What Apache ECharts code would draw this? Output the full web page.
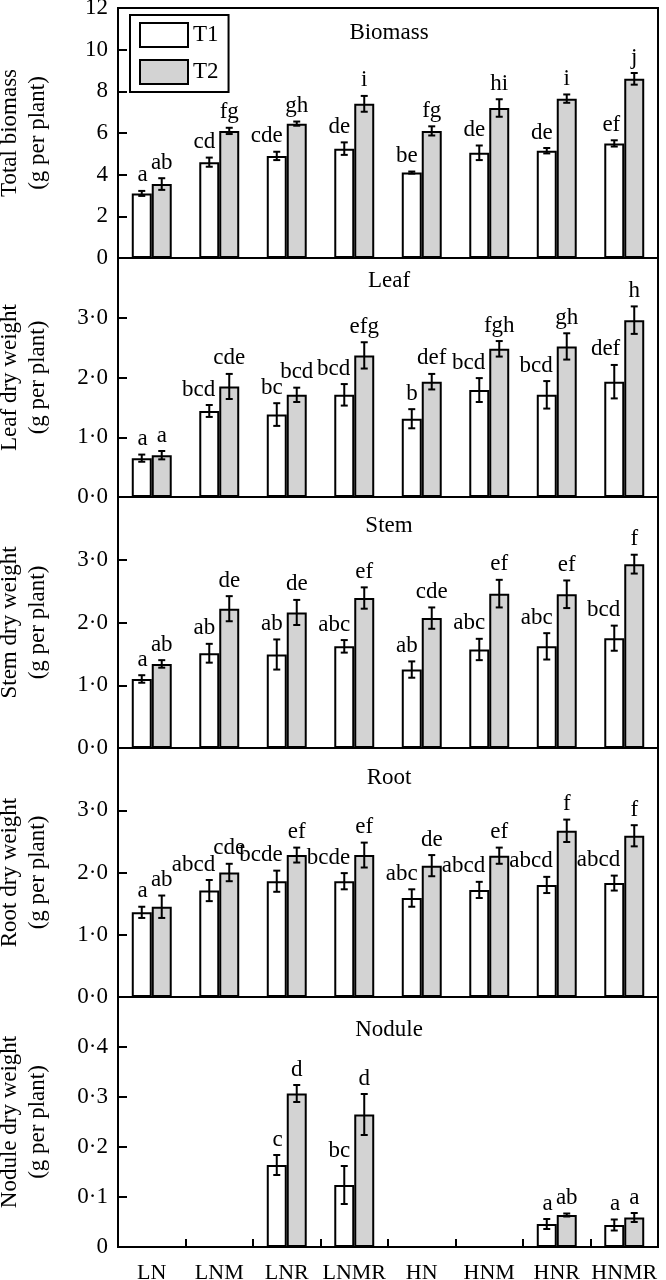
<!DOCTYPE html>
<html><head><meta charset="utf-8">
<script src="https://cdn.jsdelivr.net/npm/echarts@6/dist/echarts.min.js"></script>
<style>html,body{margin:0;padding:0;background:#fff}#c{width:666px;height:1280px}</style>
</head><body><div id="c"></div>
<script>
const categories = ['LN','LNM','LNR','LNMR','HN','HNM','HNR','HNMR'];

const biomassT1 = [3.1, 4.6, 4.9, 5.25, 4.1, 5.05, 5.15, 5.5];
const biomassT1Err = [0.12, 0.22, 0.2, 0.3, 0.05, 0.35, 0.13, 0.15];
const biomassT2 = [3.55, 6.1, 6.45, 7.4, 6.1, 7.2, 7.65, 8.6];
const biomassT2Err = [0.28, 0.15, 0.1, 0.38, 0.22, 0.42, 0.2, 0.28];
const biomassT1Letters = ['a','cd','cde','de','be','de','de','ef'];
const biomassT2Letters = ['ab','fg','gh','i','fg','hi','i','j'];

const leafT1 = [0.65, 1.44, 1.38, 1.71, 1.31, 1.79, 1.71, 1.93];
const leafT1Err = [0.06, 0.1, 0.19, 0.18, 0.16, 0.2, 0.23, 0.28];
const leafT2 = [0.70, 1.85, 1.71, 2.37, 1.93, 2.48, 2.52, 2.96];
const leafT2Err = [0.07, 0.21, 0.12, 0.22, 0.13, 0.13, 0.22, 0.23];
const leafT1Letters = ['a','bcd','bc','bcd','b','bcd','bcd','def'];
const leafT2Letters = ['a','cde','bcd','efg','def','fgh','gh','h'];

const stemT1 = [1.10, 1.51, 1.49, 1.62, 1.25, 1.57, 1.62, 1.75];
const stemT1Err = [0.06, 0.15, 0.24, 0.1, 0.13, 0.17, 0.21, 0.2];
const stemT2 = [1.34, 2.22, 2.16, 2.39, 2.07, 2.46, 2.45, 2.93];
const stemT2Err = [0.06, 0.2, 0.2, 0.17, 0.17, 0.22, 0.22, 0.15];
const stemT1Letters = ['a','ab','ab','abc','ab','abc','abc','bcd'];
const stemT2Letters = ['ab','de','de','ef','cde','ef','ef','f'];

const rootT1 = [1.36, 1.71, 1.86, 1.86, 1.59, 1.72, 1.80, 1.83];
const rootT1Err = [0.09, 0.17, 0.17, 0.13, 0.14, 0.13, 0.13, 0.12];
const rootT2 = [1.45, 2.0, 2.28, 2.28, 2.11, 2.27, 2.67, 2.59];
const rootT2Err = [0.18, 0.14, 0.12, 0.2, 0.17, 0.13, 0.18, 0.17];
const rootT1Letters = ['a','abcd','bcde','bcde','abc','abcd','abcd','abcd'];
const rootT2Letters = ['ab','cde','ef','ef','de','ef','f','f'];

const noduleT1 = [null, null, 0.164, 0.124, null, null, 0.046, 0.044];
const noduleT1Err = [null, null, 0.02, 0.038, null, null, 0.01, 0.011];
const noduleT2 = [null, null, 0.307, 0.265, null, null, 0.064, 0.059];
const noduleT2Err = [null, null, 0.017, 0.041, null, null, 0.003, 0.009];
const noduleT1Letters = ['','','c','bc','','','a','a'];
const noduleT2Letters = ['','','d','d','','','ab','a'];

const FONT = 'Liberation Serif';
const BAR_FRAC = 0.296;
const dot = v => v.toFixed(1).replace('.', '\u00B7');

const panels = [
  {title:'Biomass', yName:'Total biomass\n(g per plant)', max:12, interval:2,
   t1:biomassT1, e1:biomassT1Err, t2:biomassT2, e2:biomassT2Err, l1:biomassT1Letters, l2:biomassT2Letters,
   fmt:v=>String(v), showMax:true},
  {title:'Leaf', yName:'Leaf dry weight\n(g per plant)', max:4, interval:1,
   t1:leafT1, e1:leafT1Err, t2:leafT2, e2:leafT2Err, l1:leafT1Letters, l2:leafT2Letters, fmt:dot, showMax:false},
  {title:'Stem', yName:'Stem dry weight\n(g per plant)', max:4, interval:1,
   t1:stemT1, e1:stemT1Err, t2:stemT2, e2:stemT2Err, l1:stemT1Letters, l2:stemT2Letters, fmt:dot, showMax:false},
  {title:'Root', yName:'Root dry weight\n(g per plant)', max:4, interval:1,
   t1:rootT1, e1:rootT1Err, t2:rootT2, e2:rootT2Err, l1:rootT1Letters, l2:rootT2Letters, fmt:dot, showMax:false},
  {title:'Nodule', yName:'Nodule dry weight\n(g per plant)', max:0.5, interval:0.1,
   t1:noduleT1, e1:noduleT1Err, t2:noduleT2, e2:noduleT2Err, l1:noduleT1Letters, l2:noduleT2Letters,
   fmt:v=>(v===0?'0':dot(v)), showMax:false}
];
const layout = [[8,258],[258,497],[497,748],[748,997],[997,1247]];
const titleY = [21, 269, 514, 766, 1018];

const grid=[], xAxis=[], yAxis=[], series=[], graphic=[];
panels.forEach((p,k)=>{
  const last = k === panels.length-1;
  grid.push({left:118, right:8, top:layout[k][0], height:layout[k][1]-layout[k][0],
    outerBoundsMode:'none', containLabel:false,
    show:true, borderColor:'#000', borderWidth:2, backgroundColor:'transparent'});
  xAxis.push({type:'category', gridIndex:k, data:categories, boundaryGap:true,
    axisLine:{show:true, lineStyle:{color:'#000', width:2}},
    axisTick:{show:last, inside:true, length:8, interval:0, lineStyle:{color:'#000', width:2}},
    axisLabel:{show:last, interval:0, color:'#000', fontFamily:FONT, fontSize:22, margin:15},
    splitLine:{show:false}});
  yAxis.push({type:'value', gridIndex:k, min:0, max:p.max, interval:p.interval,
    name:p.yName, nameLocation:'middle', nameRotate:90, nameGap:66,
    nameTextStyle:{color:'#000', fontFamily:FONT, fontSize:23, lineHeight:28},
    axisLine:{show:true, lineStyle:{color:'#000', width:2}},
    axisTick:{show:true, inside:true, length:9, lineStyle:{color:'#000', width:2}},
    axisLabel:{color:'#000', fontFamily:FONT, fontSize:23, margin:10, formatter:p.fmt,
      showMaxLabel:p.showMax, showMinLabel:true},
    splitLine:{show:false}});
  const toData = arr => arr.map(v => v == null ? '-' : v);
  series.push({type:'bar', name:'T1', xAxisIndex:k, yAxisIndex:k, data:toData(p.t1),
    barWidth:'29.6%', barGap:'0%', z:2,
    itemStyle:{color:'#ffffff', borderColor:'#000', borderWidth:2}});
  series.push({type:'bar', name:'T2', xAxisIndex:k, yAxisIndex:k, data:toData(p.t2),
    barWidth:'29.6%', barGap:'0%', z:2,
    itemStyle:{color:'#d3d3d3', borderColor:'#000', borderWidth:2}});
  [0,1].forEach(t=>{
    const vals = t ? p.t2 : p.t1, errs = t ? p.e2 : p.e1, letters = t ? p.l2 : p.l1;
    series.push({type:'custom', xAxisIndex:k, yAxisIndex:k, clip:false, z:5, silent:true,
      data: vals.map((v,i)=>[i, v==null?'-':v, errs[i]==null?'-':errs[i]]),
      renderItem:(params, api)=>{
        const i = api.value(0), v = api.value(1), e = api.value(2);
        if (isNaN(v)) return null;
        const band = api.size([1,0])[0];
        const half = band*BAR_FRAC/2;
        const cx = api.coord([i, v])[0] + (t ? half : -half);
        const yT = api.coord([i, v+e])[1], yB = api.coord([i, v-e])[1];
        const cap = 3.5;
        const st = {stroke:'#000', lineWidth:2};
        return {type:'group', children:[
          {type:'line', shape:{x1:cx, y1:yT, x2:cx, y2:yB}, style:st},
          {type:'line', shape:{x1:cx-cap, y1:yT, x2:cx+cap, y2:yT}, style:st},
          {type:'line', shape:{x1:cx-cap, y1:yB, x2:cx+cap, y2:yB}, style:st},
          {type:'text', x: t ? cx : cx+6, y: yT-4,
           style:{text:letters[params.dataIndex], align: t ? 'center' : 'right', verticalAlign:'bottom',
                  font:'23px "'+FONT+'"', fill:'#000'}}
        ]};
      }});
  });
  graphic.push({type:'text', x:389, y:titleY[k], z:10,
    style:{text:p.title, align:'center', verticalAlign:'top', font:'23px "'+FONT+'"', fill:'#000'}});
});

const chart = echarts.init(document.getElementById('c'), null, {renderer:'canvas'});
chart.setOption({
  animation:false,
  backgroundColor:'#fff',
  grid, xAxis, yAxis, series, graphic,
  legend:{data:['T1','T2'], left:130, top:15, orient:'vertical', itemWidth:48, itemHeight:24, itemGap:11,
    padding:[7,10,7,9], borderColor:'#000', borderWidth:2, icon:'rect', selectedMode:false,
    textStyle:{color:'#000', fontFamily:FONT, fontSize:23}}
});
</script></body></html>
